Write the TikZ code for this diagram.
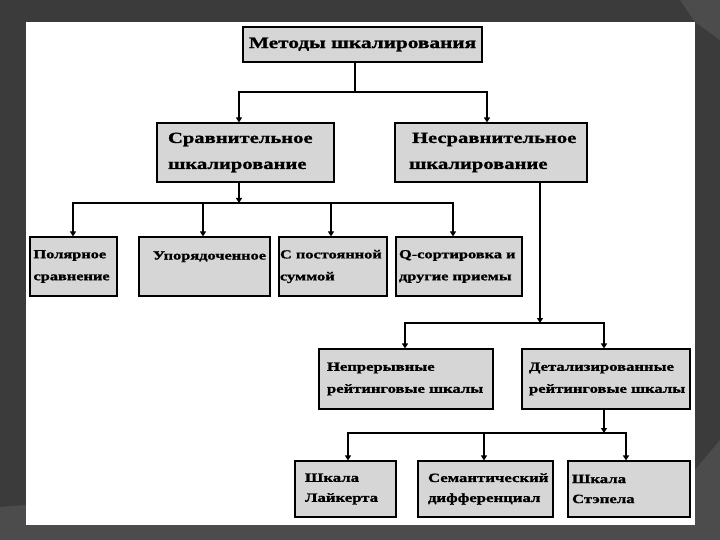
\documentclass[tikz,border=0pt]{standalone}
\usepackage{fontspec}
\setmainfont{Liberation Serif}[FakeStretch=1.33, BoldFeatures={FakeBold=1.2}]
\usetikzlibrary{arrows.meta,calc}
\definecolor{bgdark}{HTML}{3B3B3B}
\definecolor{bglight}{HTML}{4C4C4C}
\definecolor{boxgray}{HTML}{D6D6D6}
\tikzset{
  box/.style={draw=black, line width=1.1pt, fill=boxgray, align=left, inner ysep=0pt},
  arr/.style={draw=black, line width=1.1pt, -{Triangle[width=6pt,length=5pt]}},
  ln/.style={draw=black, line width=1.1pt},
  thick2/.style={line width=1.8pt},
}
\newcommand{\fA}{\fontsize{16}{20}\selectfont\bfseries}
\newcommand{\fB}{\fontsize{15.5}{26}\selectfont\bfseries}
\newcommand{\fC}{\fontsize{12.3}{22}\selectfont\bfseries}
\newcommand{\fD}{\fontsize{12.5}{22}\selectfont\bfseries}
\newcommand{\fE}{\fontsize{12.6}{20}\selectfont\bfseries}
\begin{document}
\begin{tikzpicture}[x=1pt,y=-1pt]
\useasboundingbox (0,0) rectangle (720,540);
\fill[bgdark] (0,0) rectangle (720,540);
\fill[bglight] (0,507) -- (26,505) -- (26,525) -- (695,525) -- (695,470) -- (720,440) -- (720,540) -- (0,540) -- cycle;
\fill[bglight] (660,0) -- (720,0) -- (720,40) -- (695,22) -- (680,0) -- cycle;
\fill[white] (26,22) rectangle (695,525);

% nodes
\node[box, font=\fA, text width=235pt, inner xsep=2pt, minimum height=35pt, align=center] (top) at (362.5,44.5) {Методы шкалирования};

\node[box, font=\fB, text width=155pt, inner xsep=11pt, minimum height=59pt] (cmp) at (245.5,152.5) {Сравнительное\\шкалирование};
\node[box, font=\fB, text width=164pt, inner xsep=14pt, minimum height=59pt] (ncmp) at (491,152.5) {\hspace*{3pt}Несравнительное\\шкалирование};

\node[box, font=\fC, text width=80pt, inner xsep=3.5pt, minimum height=59pt] (polar) at (73.5,266.5) {Полярное\\сравнение};
\node[box, font=\fC, text width=117pt, inner xsep=7pt, minimum height=59pt] (ord) at (204.5,266.5) {\hspace*{7pt}Упорядоченное\\\mbox{}};
\node[box, font=\fC, text width=106pt, inner xsep=1pt, minimum height=59pt] (const) at (333,266.5) {С постоянной\\суммой};
\node[box, font=\fC, text width=120pt, inner xsep=3pt, minimum height=59pt] (qsort) at (459,266.5) {Q-сортировка и\\другие приемы};

\node[box, font=\fD, text width=168pt, inner xsep=3pt, minimum height=60pt] (cont) at (406,379) {\hspace*{5pt}Непрерывные\\\hspace*{5pt}рейтинговые шкалы};
\node[box, font=\fD, text width=162pt, inner xsep=3pt, minimum height=60pt] (det) at (606,379) {\hspace*{4pt}Детализированные\\\hspace*{4pt}рейтинговые шкалы};

\node[box, font=\fE, text width=81pt, inner xsep=10pt, minimum height=56pt] (lik) at (345.5,489) {Шкала\\Лайкерта};
\node[box, font=\fE, text width=129pt, inner xsep=3pt, minimum height=56pt] (sem) at (485.5,489) {\hspace*{7pt}Семантический\\\hspace*{7pt}дифференциал};
\node[box, font=\fE, text width=114pt, inner xsep=4pt, minimum height=56pt] (stap) at (629,489) {Шкала\\Стэпела};

% junction coordinates
\coordinate (j1) at (355,92);
\coordinate (xa) at (239,0);
\coordinate (xb) at (487,0);
\coordinate (j2) at (239,203);
\coordinate (p1) at (73,0);
\coordinate (p2) at (203,0);
\coordinate (p3) at (331,0);
\coordinate (p4) at (453,0);
\coordinate (j3) at (540,323);
\coordinate (q1) at (405,0);
\coordinate (q2) at (604,0);
\coordinate (j4) at (604,433);
\coordinate (r1) at (348,0);
\coordinate (r2) at (484,0);
\coordinate (r3) at (626,0);

% level 1 -> 2
\draw[ln] (top.south -| j1) -- (j1);
\draw[arr] (j1) -| (cmp.north -| xa);
\draw[arr, thick2] (j1) -| (ncmp.north -| xb);

% level 2 -> 3
\draw[arr] (cmp.south -| j2) -- (j2);
\draw[arr] (j2) -| (polar.north -| p1);
\draw[arr] (j2) -| (ord.north -| p2);
\draw[arr] (j2) -| (const.north -| p3);
\draw[arr] (j2) -| (qsort.north -| p4);

% level 2 -> 4
\draw[arr] (ncmp.south -| j3) -- (j3);
\draw[arr, thick2] (j3) -| (cont.north -| q1);
\draw[arr, thick2] (j3) -| (det.north -| q2);

% level 4 -> 5
\draw[arr, thick2] (det.south -| j4) -- (j4);
\draw[arr] (j4) -| (lik.north -| r1);
\draw[arr] (j4) -| (sem.north -| r2);
\draw[arr, thick2] (j4) -| (stap.north -| r3);
\end{tikzpicture}
\end{document}
